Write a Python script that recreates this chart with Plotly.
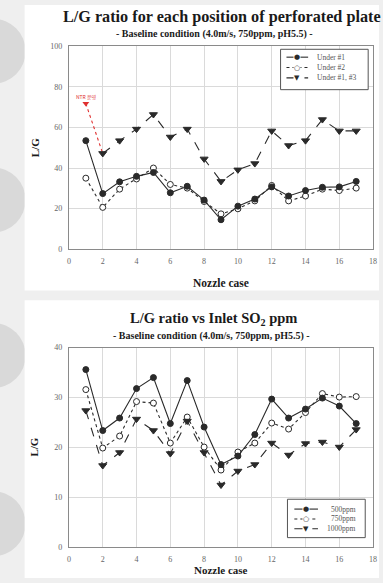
import plotly.graph_objects as go

W, H = 383, 583

# ---------------- data ----------------
nozzle = list(range(1, 18))

top_title = "L/G ratio for each position of perforated plate"
bot_title = "L/G ratio vs Inlet SO<sub>2</sub> ppm"
subtitle = "- Baseline condition (4.0m/s, 750ppm, pH5.5) -"

under1 = [53.5, 27.4, 33.2, 35.9, 37.8, 27.8, 31.0, 24.2, 14.5, 21.2, 24.7, 30.7, 26.2, 28.9, 30.5, 30.7, 33.4]
under2 = [35.0, 20.6, 29.6, 34.6, 40.0, 31.9, 30.1, 23.5, 17.4, 19.9, 23.8, 31.4, 23.8, 26.2, 29.6, 28.9, 30.1]
under13_x = list(range(2, 18))
under13 = [47.2, 53.5, 59.2, 66.4, 55.3, 59.2, 44.5, 33.4, 39.1, 42.2, 58.3, 51.1, 53.5, 63.9, 58.3, 58.3]
ntr_x = [1, 2]
ntr_y = [71.8, 47.2]
ntr_label = "NTR 운영"

ppm500 = [35.6, 23.4, 25.9, 31.8, 34.0, 24.8, 33.4, 24.1, 16.6, 18.3, 22.6, 29.7, 25.9, 27.7, 29.9, 28.3, 24.8]
ppm750 = [31.6, 19.9, 22.3, 29.2, 28.9, 20.9, 26.1, 20.1, 15.5, 19.1, 20.9, 24.9, 23.7, 27.0, 30.8, 30.1, 30.2]
ppm1000 = [27.4, 16.4, 19.0, 25.7, 23.4, 18.8, 25.3, 19.0, 12.5, 15.3, 16.6, 20.9, 18.5, 20.8, 21.1, 20.1, 23.6]

x_ticks = list(range(0, 19, 2))
top_y_ticks = list(range(0, 101, 20))
bot_y_ticks = list(range(0, 41, 10))

# ---------------- helpers ----------------
def px(x):
    return x / W

def py(y):
    return 1 - y / H

SERIF = "Liberation Serif, Times New Roman, serif"
INK = "#2a2a2a"
GRID = "#dadada"
FRAME = "#8a8a8a"
TICK = "#666666"

fig = go.Figure()

def line_trace(x, y, dash, symbol, filled, name, xa, ya, color=INK, size=6, markers=True):
    fig.add_trace(go.Scatter(
        x=x, y=y, mode="lines+markers" if markers else "lines", name=name, showlegend=False,
        line=dict(color=color, width=1.1, dash=dash),
        marker=dict(symbol=symbol, size=size,
                    color=color if filled else "white",
                    line=dict(color=color, width=1)),
        xaxis=xa, yaxis=ya,
    ))

# top chart
line_trace(ntr_x, ntr_y, "dot", "triangle-down", True, "NTR", "x", "y", color="#e03030", markers=False)
fig.add_trace(go.Scatter(x=ntr_x[:1], y=ntr_y[:1], mode="markers", showlegend=False,
                         marker=dict(symbol="triangle-down", size=6, color="#e03030"),
                         xaxis="x", yaxis="y"))
line_trace(nozzle, under2, "dot", "circle", False, "Under #2", "x", "y")
line_trace(nozzle, under1, "solid", "circle", True, "Under #1", "x", "y")
line_trace(under13_x, under13, "dash", "triangle-down", True, "Under #1, #3", "x", "y", size=7)

# bottom chart
line_trace(nozzle, ppm750, "dot", "circle", False, "750ppm", "x2", "y2")
line_trace(nozzle, ppm500, "solid", "circle", True, "500ppm", "x2", "y2")
line_trace(nozzle, ppm1000, "dash", "triangle-down", True, "1000ppm", "x2", "y2", size=7)

# ---------------- layout ----------------
shapes = []
# page background decorations
for cy in [48, 199, 357, 528]:
    shapes.append(dict(type="circle", xref="paper", yref="paper",
                       x0=px(-42), x1=px(24), y0=py(cy + 33), y1=py(cy - 33),
                       fillcolor="#d9d9d9", line=dict(width=0), layer="below"))
shapes.append(dict(type="rect", xref="paper", yref="paper", x0=px(23), x1=px(383),
                   y0=py(291), y1=py(1), fillcolor="white", line=dict(width=0), layer="below"))
shapes.append(dict(type="rect", xref="paper", yref="paper", x0=px(23), x1=px(383),
                   y0=py(583), y1=py(301), fillcolor="white", line=dict(width=0), layer="below"))

annotations = []

def legend(box, rows, entries, text_anchor, text_x):
    x0, y0, x1, y1 = box
    shapes.append(dict(type="rect", xref="paper", yref="paper", x0=px(x0), x1=px(x1),
                       y0=py(y1), y1=py(y0), fillcolor="white",
                       line=dict(color="#555555", width=1)))
    lx0, lx1, mx = rows["line"]
    for ry, (label, dash, glyph) in zip(rows["y"], entries):
        shapes.append(dict(type="line", xref="paper", yref="paper", x0=px(lx0), x1=px(lx1),
                           y0=py(ry), y1=py(ry), line=dict(color=INK, width=1.1, dash=dash)))
        annotations.append(dict(xref="paper", yref="paper", x=px(mx), y=py(ry), text=glyph,
                                showarrow=False, xanchor="center", yanchor="middle",
                                font=dict(size=7, color=INK, family="DejaVu Sans"),
                                bgcolor="white", borderpad=0))
        annotations.append(dict(xref="paper", yref="paper", x=px(text_x), y=py(ry), text=label,
                                showarrow=False, xanchor=text_anchor, yanchor="middle",
                                font=dict(size=7.5, color="#555555", family=SERIF)))

legend((283, 46, 372, 87), {"y": [54, 64.5, 75], "line": (289, 311, 300)},
       [("Under #1", "solid", "●"), ("Under #2", "dot", "○"), ("Under #1, #3", "dash", "▼")],
       "left", 318)
legend((290, 503, 369, 542), {"y": [513, 523, 533], "line": (297, 321, 309)},
       [("500ppm", "solid", "●"), ("750ppm", "dot", "○"), ("1000ppm", "dash", "▼")],
       "right", 362)

def text(x, y, s, size, bold=True, angle=0, color="#1a1a1a"):
    annotations.append(dict(xref="paper", yref="paper", x=px(x), y=py(y),
                            text=f"<b>{s}</b>" if bold else s, showarrow=False,
                            xanchor="center", yanchor="middle", textangle=angle,
                            font=dict(size=size, color=color, family=SERIF)))

text(223, 13, top_title, 16.2)
text(216, 30, subtitle, 10)
text(222, 283, "Nozzle case", 11.5)
text(33, 146, "L/G", 11, angle=-90)

text(215, 320, bot_title, 14.5)
text(213, 337, subtitle, 10)
text(222, 575, "Nozzle case", 11)
text(33, 450, "L/G", 11, angle=-90)

annotations.append(dict(x=ntr_x[0], y=ntr_y[0] + 3.5, xref="x", yref="y", text=ntr_label,
                        showarrow=False, font=dict(size=5, color="#e03030", family="Noto Sans CJK KR")))

def xaxis(domain, anchor):
    return dict(domain=domain, anchor=anchor, range=[0, 18], tickvals=x_ticks,
                showgrid=True, gridcolor=GRID, gridwidth=1, zeroline=False,
                showline=True, linecolor=FRAME, linewidth=1, mirror=True,
                ticks="", tickfont=dict(size=8, color=TICK, family=SERIF),
                ticklabelstandoff=4)

def yaxis(domain, anchor, rng, ticks):
    return dict(domain=domain, anchor=anchor, range=rng, tickvals=ticks,
                showgrid=True, gridcolor=GRID, gridwidth=1, zeroline=False,
                showline=True, linecolor=FRAME, linewidth=1, mirror=True,
                ticks="", tickfont=dict(size=8, color=TICK, family=SERIF),
                ticklabelstandoff=4)

fig.update_layout(
    width=W, height=H,
    margin=dict(l=0, r=0, t=0, b=0),
    paper_bgcolor="#efefef", plot_bgcolor="rgba(0,0,0,0)",
    showlegend=False,
    xaxis=xaxis([px(68), px(377)], "y"),
    yaxis=yaxis([py(249), py(43)], "x", [0, 100], top_y_ticks),
    xaxis2=xaxis([px(68), px(377)], "y2"),
    yaxis2=yaxis([py(552), py(349)], "x2", [0, 40], bot_y_ticks),
    shapes=shapes,
    annotations=annotations,
)

fig.write_html(
    "out.html",
    config={"displayModeBar": False},
    post_script="document.body.style.margin='0';document.body.style.overflow='hidden';"
                "document.body.style.background='#efefef';",
)
